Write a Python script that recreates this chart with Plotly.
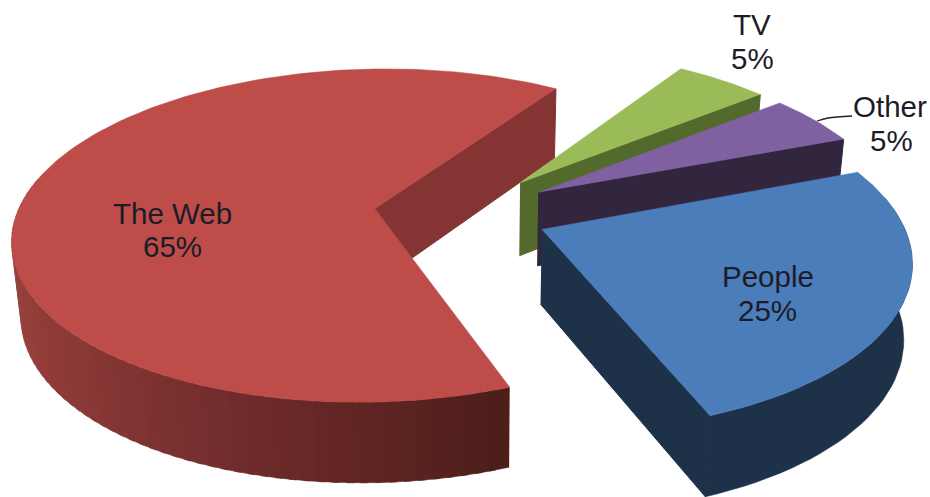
import numpy as np
import plotly.graph_objects as go

categories = ["TV", "Other", "People", "The Web"]
shares = [5, 5, 25, 65]
top_colors = ["#9BBB59", "#7F60A1", "#4B7DBB", "#BE4D4A"]
cut_colors = ["#546A2C", "#32263F", "#1D3249", "#843533"]
side_colors = ["#546A2C", "#32263F", "#1D3249", None]
pull = [91.0, 91.0, 87.0, 87.0]

label_lines = {
    "TV": [(752, 24), (752, 58)],
    "Other": [(890, 106), (891, 140)],
    "People": [(768, 276), (767, 310)],
    "The Web": [(172, 213), (172, 246)],
}

# projection of the tilted pie
CX, CY = 461.0, 213.0
TILT = 0.458
PERSP = 0.00045
RADIUS = 357.5
DEPTH = 74.0
START = -57.0
BOTTOM_SHRINK = 0.98
BOTTOM_AXIS = 480.0


def project(X, Y, bottom=False):
    X, Y = np.asarray(X, float), np.asarray(Y, float)
    s = 1 / (1 - PERSP * Y)
    x, y = CX + X * s, CY + TILT * Y * s
    if bottom:
        x = BOTTOM_AXIS + (x - BOTTOM_AXIS) * BOTTOM_SHRINK
        y = y + DEPTH * np.sqrt(s)
    return x, y


def rim(theta_deg, mid_deg, e):
    t, m = np.radians(theta_deg), np.radians(mid_deg)
    return (e * np.cos(m) + RADIUS * np.cos(t),
            e * np.sin(m) + RADIUS * np.sin(t))


def apex(mid_deg, e):
    m = np.radians(mid_deg)
    return np.array([e * np.cos(m)]), np.array([e * np.sin(m)])


def red_side(theta):
    stops = [69, 105, 136, 190]
    rgb = [np.interp(theta, stops, c) for c in ([76, 112, 140, 165], [30, 44, 58, 75], [26, 44, 55, 72])]
    return "rgb(%d,%d,%d)" % tuple(rgb)


fig = go.Figure()


def poly(x, y, color, lw=0.5):
    fig.add_trace(go.Scatter(x=np.asarray(x), y=np.asarray(y), mode="lines", fill="toself",
                             fillcolor=color, line=dict(color=color, width=lw),
                             hoverinfo="skip", showlegend=False))


def wall(a, b, mid, e, color):
    th = np.linspace(a, b, 40)
    Xs, Ys = rim(th, mid, e)
    xt, yt = project(Xs, Ys)
    xb, yb = project(Xs, Ys, bottom=True)
    poly(np.r_[xt, xb[::-1]], np.r_[yt, yb[::-1]], color)


def add_slice(idx, a0, a1):
    mid = (a0 + a1) / 2
    e = pull[idx]
    # outer wall, only where it faces the viewer
    th = np.arange(a0, a1 + 0.001, 2.0)
    th = th[np.sin(np.radians(th)) > -0.22]
    if len(th) > 1:
        if side_colors[idx]:
            wall(th[0], th[-1], mid, e, side_colors[idx])
        else:
            # gradient bands painted far to near so that each overlaps the last
            for p in th[::-1][1:]:
                wall(p, min(p + 3.0, th[-1]), mid, e, red_side(p + 1))
    # cut face at the clockwise end
    Xa, Ya = apex(mid, e)
    Xe, Ye = rim(np.array([a1]), mid, e)
    X2, Y2 = np.r_[Xa, Xe], np.r_[Ya, Ye]
    xt, yt = project(X2, Y2)
    xb, yb = project(X2, Y2, bottom=True)
    poly(np.r_[xt, xb[::-1]], np.r_[yt, yb[::-1]], cut_colors[idx], lw=1.0)
    # top face
    Xr, Yr = rim(np.linspace(a0, a1, 160), mid, e)
    xt, yt = project(np.r_[Xa, Xr], np.r_[Ya, Yr])
    poly(xt, yt, top_colors[idx])


edges = START + np.r_[0, np.cumsum(shares)] * 3.6
for i in [3, 0, 1, 2]:
    add_slice(i, edges[i], edges[i + 1])

# leader line of the Other label
fig.add_trace(go.Scatter(x=[817, 828, 852], y=[121, 118, 116], mode="lines",
                         line=dict(color="#222222", width=1.3, shape="spline"),
                         hoverinfo="skip", showlegend=False))

for name, val in zip(categories, shares):
    for text, (lx, ly) in zip([name, f"{val}%"], label_lines[name]):
        fig.add_annotation(x=lx, y=ly, text=text, showarrow=False, xanchor="center", yanchor="middle",
                           font=dict(family="Liberation Sans, Arial, sans-serif", size=29.5, color="#1c1c28"))

fig.update_layout(width=930, height=497, margin=dict(l=0, r=0, t=0, b=0),
                  paper_bgcolor="white", plot_bgcolor="white", showlegend=False,
                  xaxis=dict(range=[0, 930], visible=False, fixedrange=True),
                  yaxis=dict(range=[497, 0], visible=False, fixedrange=True))
fig.write_html("out.html", config={"displayModeBar": False},
               post_script="document.body.style.margin='0';document.documentElement.style.overflow='hidden';")
